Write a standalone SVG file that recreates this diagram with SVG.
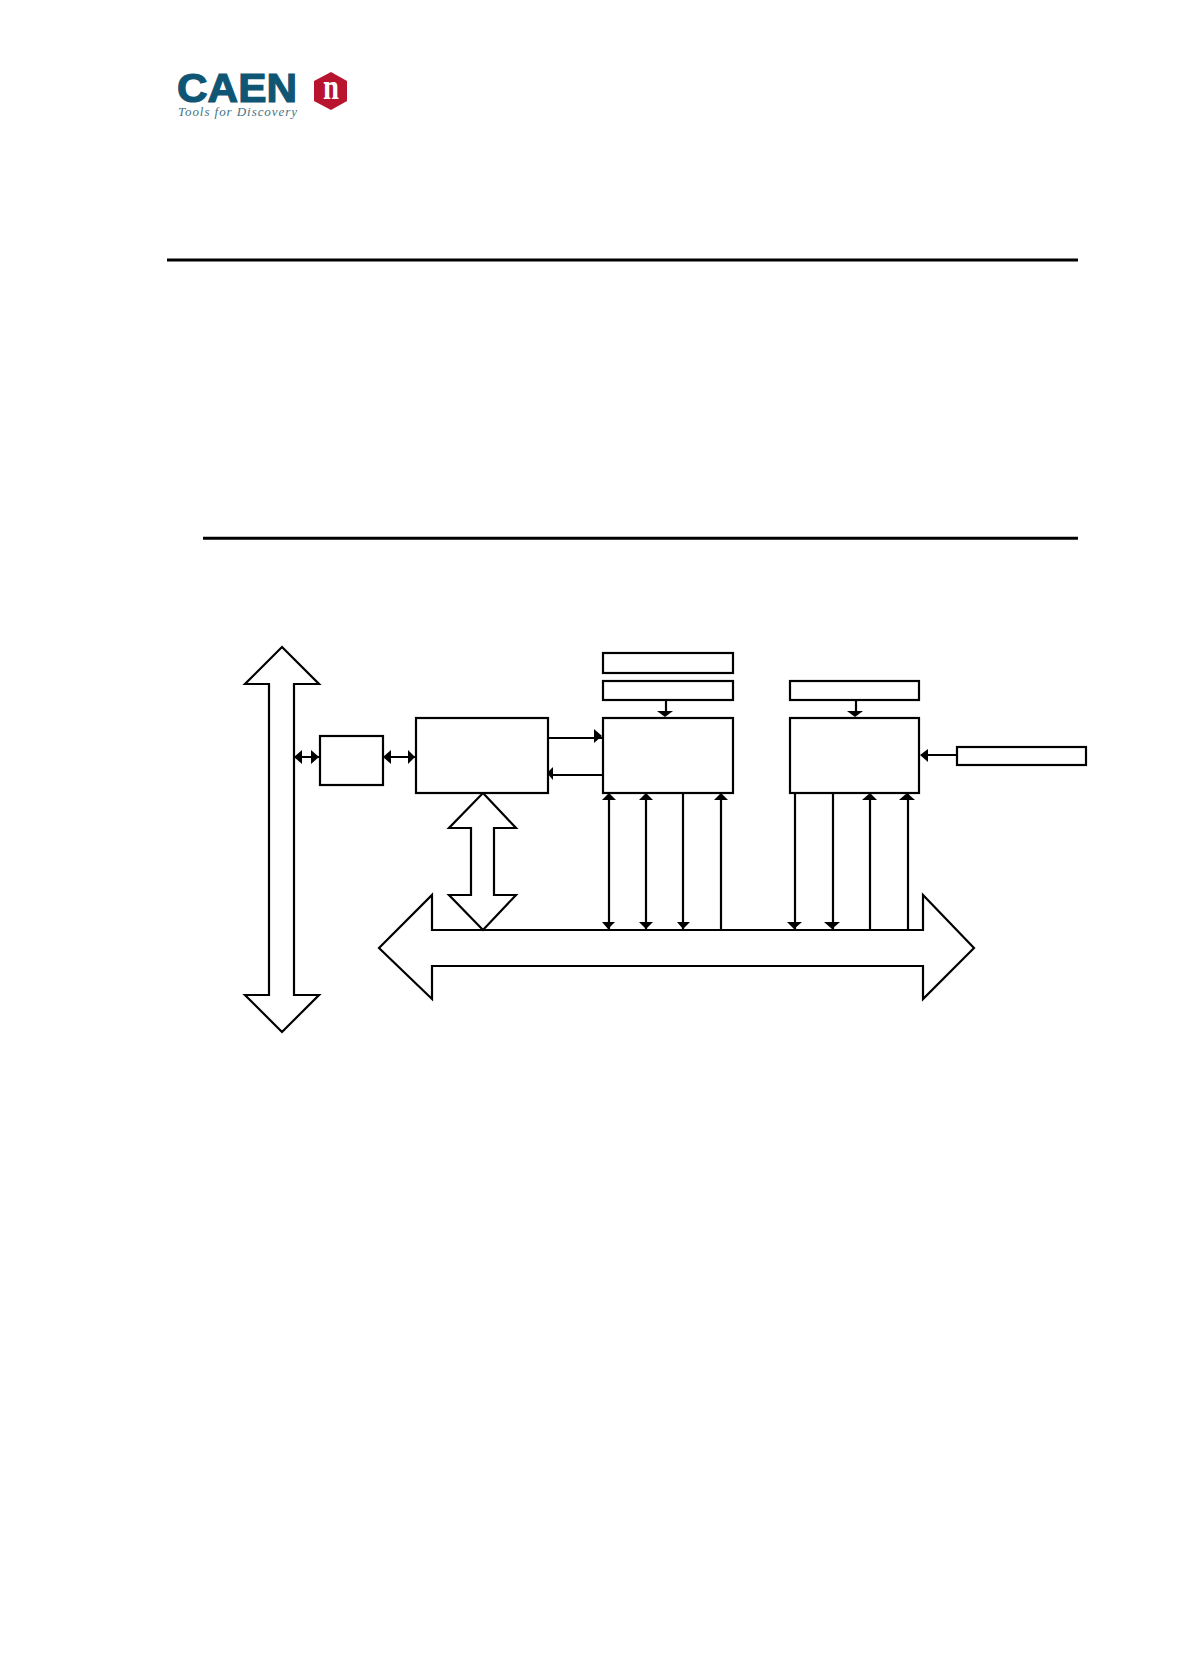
<svg xmlns="http://www.w3.org/2000/svg" width="1188" height="1680" viewBox="0 0 1188 1680">
<style>
.s{fill:#fff;stroke:#000;stroke-width:2.2;stroke-linejoin:miter}
.l{fill:none;stroke:#000;stroke-width:2.2}
.h{fill:#000;stroke:none}
.rule{stroke:#000;stroke-width:3}
</style>
<rect width="1188" height="1680" fill="#fff"/>
<g id="logo">
<text x="177" y="102" font-family="'Liberation Sans',Arial,sans-serif" font-weight="700" font-size="40" fill="#0f5675" textLength="120" lengthAdjust="spacingAndGlyphs" stroke="#0f5675" stroke-width="1.2">CAEN</text>
<text x="178" y="116" font-family="'Liberation Serif',serif" font-style="italic" font-size="13" fill="#3f7485" textLength="119" lengthAdjust="spacing">Tools for Discovery</text>
<polygon points="331,72 347,81 347,101 331,110 314,101 314,81" fill="#b8132f"/>
<text x="331" y="99" text-anchor="middle" font-family="'Liberation Serif',serif" font-weight="700" font-size="36" fill="#fff" textLength="16" lengthAdjust="spacingAndGlyphs">n</text>
</g>
<line class="rule" x1="167" y1="260" x2="1078" y2="260"/>
<line class="rule" x1="203" y1="538.3" x2="1078" y2="538.3"/>
<g id="bus-v"><polygon class="s" points="282,647 319,684 294,684 294,995 319,995 282,1032 245,995 269,995 269,684 245,684"/></g>
<g id="bus-h"><polygon class="s" points="379,948 432,895 432,930 923,930 923,895 974,948 923,999 923,966 432,966 432,999"/></g>
<g id="arrow-mid"><polygon class="s" points="483,793 516,828 494,828 494,895 516,895 483,930 449,895 471,895 471,828 449,828"/></g>
<g id="box1"><rect class="s" x="320" y="736" width="63" height="49"/></g>
<g id="box2"><rect class="s" x="416" y="718" width="132" height="75"/></g>
<g id="box3"><rect class="s" x="603" y="718" width="130" height="75"/></g>
<g id="box4"><rect class="s" x="790" y="718" width="129" height="75"/></g>
<g id="box5"><rect class="s" x="603" y="653" width="130" height="20"/></g>
<g id="box6"><rect class="s" x="603" y="681" width="130" height="19"/></g>
<g id="box7"><rect class="s" x="790" y="681" width="129" height="19"/></g>
<g id="box8"><rect class="s" x="957" y="747" width="129" height="18"/></g>
<g id="connectors">
<path class="l" d="M294 757H320M383 757H416M549 738H602M603 775H552M666 700V712M856 700V712M957 755H926M609 793V930M646 793V930M683 793V930M721 793V930M795 793V930M833 793V930M870 793V930M908 793V930"/>
<g class="h">
<polygon points="294,757 302,750 302,764"/><polygon points="319,757 311,750 311,764"/>
<polygon points="383,757 391,750 391,764"/><polygon points="415,757 408,750 408,764"/>
<polygon points="602,736 594,729 594,743"/><polygon points="547,773 553,767 553,780"/>
<polygon points="665,717 657,711 673,711"/><polygon points="855,717 847,711 863,711"/>
<polygon points="920,755 928,749 928,762"/>
<polygon points="609,793 602,800 616,800"/><polygon points="646,793 639,800 653,800"/><polygon points="721,793 714,800 728,800"/><polygon points="870,793 862,800 877,800"/><polygon points="907,793 899,800 915,800"/>
<polygon points="608,929 602,922 615,922"/><polygon points="646,929 639,922 653,922"/><polygon points="683,929 677,922 690,922"/><polygon points="794,929 787,922 802,922"/><polygon points="832,929 824,922 840,922"/>
</g>
</g>
</svg>
